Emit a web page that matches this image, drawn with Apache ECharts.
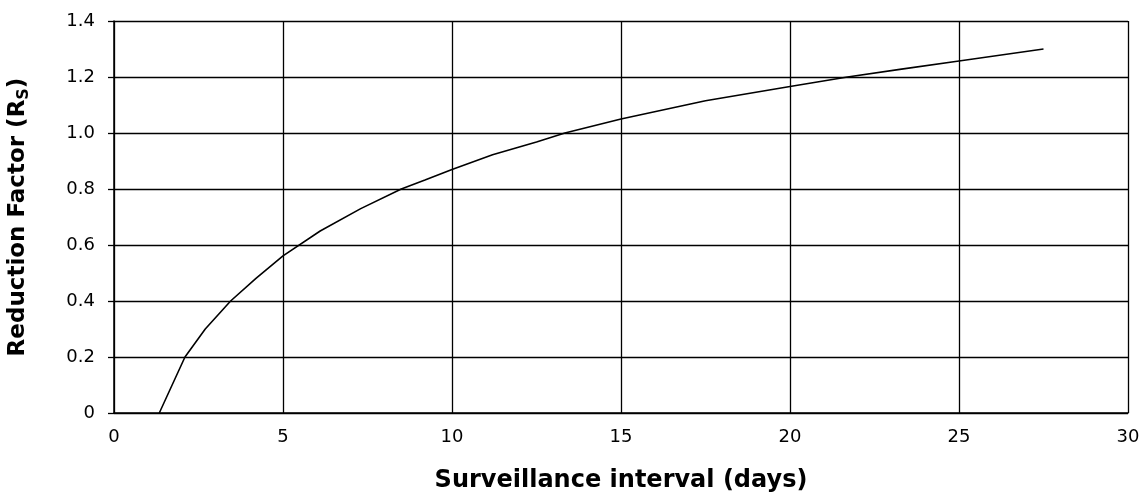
<!DOCTYPE html>
<html>
<head>
<meta charset="utf-8">
<script src="https://cdn.jsdelivr.net/npm/echarts@6/dist/echarts.min.js"></script>
<style>
html,body{margin:0;padding:0;background:#fff;}
#c{width:1146px;height:502px;}
</style>
</head>
<body>
<div id="c"></div>
<script>
var intervalDays = [1.34, 2.1, 2.7, 3.45, 4.2, 5, 6.1, 7.3, 8.5, 9.2, 10, 11.2, 12.5, 13.34, 15, 17.5, 20, 21.7, 23.3, 25, 27.5];
var reductionFactor = [0, 0.2, 0.3, 0.4, 0.481, 0.561, 0.65, 0.73, 0.8, 0.832, 0.87, 0.922, 0.968, 1.0, 1.05, 1.115, 1.166, 1.2, 1.228, 1.257, 1.3];
var xTicks = ['0', '5', '10', '15', '20', '25', '30'];
var yTicks = ['0', '0.2', '0.4', '0.6', '0.8', '1.0', '1.2', '1.4'];

var FONT = 'DejaVu Sans';
var chart = echarts.init(document.getElementById('c'), null, {renderer: 'canvas'});
var pts = intervalDays.map(function (x, i) { return [x, reductionFactor[i]]; });

chart.setOption({
  animation: false,
  backgroundColor: '#ffffff',
  grid: {left: 114, right: 18, top: 21, bottom: 89, containLabel: false, outerBoundsMode: 'none'},
  xAxis: {
    type: 'value', min: 0, max: 30, interval: 5,
    name: 'Surveillance interval (days)',
    nameLocation: 'middle', nameGap: 56,
    nameTextStyle: {fontFamily: FONT, fontWeight: 'bold', fontSize: 24, color: '#000'},
    axisLine: {show: true, lineStyle: {color: '#000', width: 1.5}},
    axisTick: {show: false},
    axisLabel: {
      margin: 15, fontFamily: FONT, fontSize: 18, color: '#000',
      formatter: function (v) { return xTicks[Math.round(v / 5)]; }
    },
    splitLine: {show: true, lineStyle: {color: '#000', width: 1.3}}
  },
  yAxis: {
    type: 'value', min: 0, max: 1.4, interval: 0.2,
    name: '{a|Reduction Factor (R}{s|S}{a|)}',
    nameLocation: 'middle', nameGap: 82, nameRotate: 90,
    nameTextStyle: {
      rich: {
        a: {fontFamily: FONT, fontWeight: 'bold', fontSize: 23, color: '#000', lineHeight: 28},
        s: {fontFamily: FONT, fontWeight: 'bold', fontSize: 16, color: '#000', lineHeight: 28, verticalAlign: 'bottom', padding: [8, 0, 0, 0]}
      }
    },
    axisLine: {show: true, lineStyle: {color: '#000', width: 1.5}},
    axisTick: {show: true, inside: false, length: 6, lineStyle: {color: '#000', width: 1.3}},
    axisLabel: {
      margin: 19, fontFamily: FONT, fontSize: 18, color: '#000',
      formatter: function (v) { return yTicks[Math.round(v / 0.2)]; }
    },
    splitLine: {show: true, lineStyle: {color: '#000', width: 1.3}}
  },
  series: [{
    type: 'line',
    data: pts,
    smooth: false,
    showSymbol: false,
    symbol: 'none',
    lineStyle: {color: '#000', width: 1.6},
    clip: true
  }]
});
</script>
</body>
</html>
